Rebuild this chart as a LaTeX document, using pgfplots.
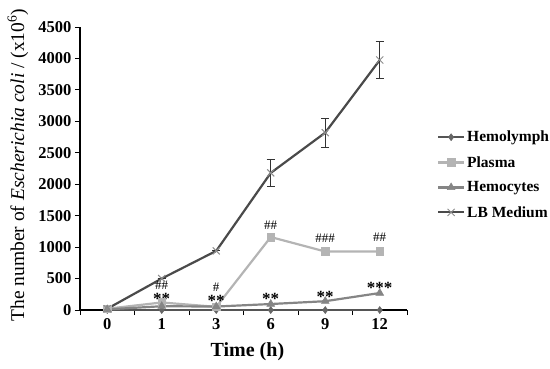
\documentclass[border=0pt]{standalone}
\usepackage{fontspec}
\setmainfont{Liberation Serif}
\usepackage{pgfplots}
\pgfplotsset{compat=1.18}
\definecolor{hlc}{HTML}{555555}
\definecolor{hlm}{HTML}{666666}
\definecolor{plc}{HTML}{B4B4B4}
\definecolor{hcc}{HTML}{858585}
\definecolor{lbc}{HTML}{4A4A4A}
\definecolor{lbm}{HTML}{8C8C8C}
\begin{document}
\begin{tikzpicture}[x=1pt,y=1pt]
\useasboundingbox (0,0) rectangle (550,368);
\begin{axis}[
  at={(80pt,58pt)}, anchor=south west,
  scale only axis, width=327pt, height=283pt,
  xmin=-0.5, xmax=5.5, ymin=0, ymax=4500,
  axis x line=bottom, axis y line=left,
  axis line style={-, line width=1.8pt, black},
  clip=false,
  xtick={0,...,5}, xticklabels={0,1,3,6,9,12},
  minor xtick={-0.5,0.5,...,5.5},
  major x tick style={draw=none},
  minor x tick style={black, line width=0.6pt},
  ytick={0,500,...,4500},
  y tick style={black, line width=1pt},
  tick align=outside, major tick length=5pt, minor tick length=5pt,
  ticklabel style={font=\fontsize{16.5}{16.5}\selectfont\bfseries},
  /pgf/number format/assume math mode=true,
  /pgf/number format/set thousands separator={},
  xlabel={Time (h)},
  xlabel style={at={(axis description cs:0.512,-0.148)}, anchor=center, font=\fontsize{20}{20}\selectfont\bfseries},
  ylabel={The number of \textit{Escherichia coli} / (x10\textsuperscript{6})},
  ylabel style={at={(axis description cs:-0.19,0.512)}, anchor=center, font=\fontsize{19.5}{19.5}\selectfont},
  legend style={draw=none, fill=none, at={(1.082,0.647)}, anchor=north west,
    font=\fontsize{15.5}{15.5}\selectfont\bfseries, row sep=9pt},
  legend cell align=left,
  legend image code/.code={\draw[mark repeat=2,mark phase=2,#1] plot coordinates {(0pt,0pt) (13pt,0pt) (26pt,0pt)};},
]
\addplot[hlc, line width=2.2pt, mark=diamond*, mark size=3.5pt, mark options={fill=hlm, draw=hlm, line width=0.5pt}]
  coordinates {(0,0) (1,0) (2,0) (3,0) (4,0) (5,0)};
\addlegendentry{Hemolymph}
\addplot[plc, line width=2.2pt, mark=square*, mark size=3.8pt, mark options={fill=plc, draw=plc, line width=0.5pt}]
  coordinates {(0,20) (1,120) (2,50) (3,1160) (4,930) (5,930)};
\addlegendentry{Plasma}
\addplot[hcc, line width=2.2pt, mark=triangle*, mark size=4.5pt, mark options={fill=hcc, draw=hcc, line width=0.5pt}]
  coordinates {(0,10) (1,60) (2,55) (3,95) (4,140) (5,270)};
\addlegendentry{Hemocytes}
\addplot[lbc, line width=2.2pt, mark=x, mark size=5pt, mark options={draw=lbm, line width=1pt},
  error bars/.cd, y dir=both, y explicit,
  error bar style={line width=1pt, black!80, solid},
  error mark options={rotate=90, mark size=4pt, line width=1pt, black!80}]
  coordinates {(0,20) +- (0,0) (1,500) +- (0,0) (2,940) +- (0,0) (3,2180) +- (0,220) (4,2820) +- (0,230) (5,3975) +- (0,290)};
\addlegendentry{LB Medium}
\begin{scope}[every node/.style={font=\fontsize{13}{13}\selectfont, inner sep=0pt}]
\node at (axis cs:1,400) {\#\#};
\node at (axis cs:2,365) {\#};
\node at (axis cs:3,1351) {\#\#};
\node at (axis cs:4,1145) {\#\#\#};
\node at (axis cs:5,1160) {\#\#};
\end{scope}
\begin{scope}[every node/.style={font=\fontsize{17}{17}\selectfont\bfseries, inner sep=0pt}]
\node at (axis cs:1,170) {**};
\node at (axis cs:2,150) {**};
\node at (axis cs:3,170) {**};
\node at (axis cs:4,215) {**};
\node at (axis cs:5,345) {***};
\end{scope}
\end{axis}
\end{tikzpicture}
\end{document}
